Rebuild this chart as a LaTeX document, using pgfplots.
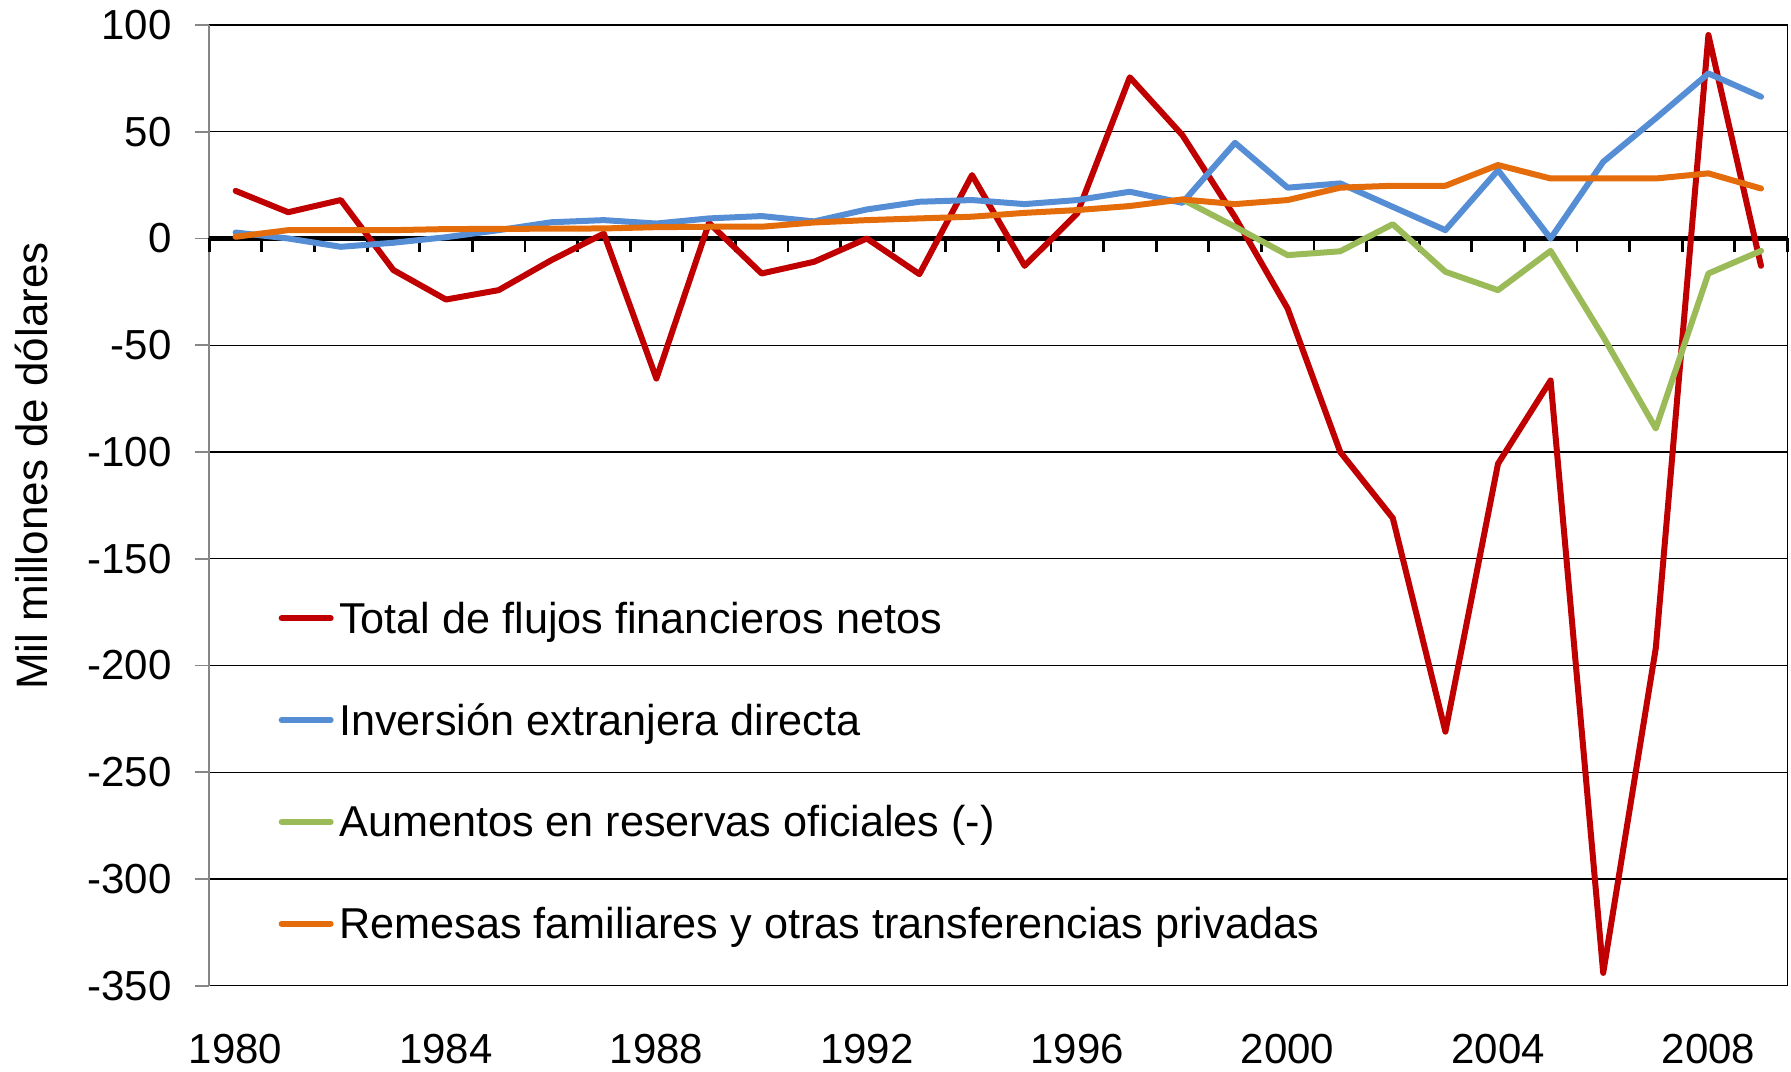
\documentclass[border=0pt]{standalone}
\usepackage{pgfplots}
\usepackage{pgfplotstable}
\pgfplotsset{compat=1.18}
\usepackage{fontspec}
\setmainfont{Liberation Sans}
\definecolor{cred}{HTML}{C00000}
\definecolor{cblue}{HTML}{558ED5}
\definecolor{cgreen}{HTML}{9BBB59}
\definecolor{corange}{HTML}{E46C0A}
\definecolor{caxis}{HTML}{868686}

\pgfplotstableread{
year total ied remesas
1980 22.3 2.8 0.8
1981 12.3 0.0 3.9
1982 18.0 -3.9 3.9
1983 -14.8 -2.0 3.9
1984 -28.6 0.6 4.4
1985 -24.2 3.9 4.5
1986 -10.2 7.6 4.6
1987 2.3 8.6 4.7
1988 -65.6 7.0 5.3
1989 7.3 9.4 5.5
1990 -16.4 10.5 5.5
1991 -10.9 8.0 7.5
1992 0.0 13.6 8.6
1993 -16.7 17.2 9.4
1994 29.7 18.0 10.2
1995 -12.8 16.1 12.0
1996 11.7 18.0 13.3
1997 75.5 21.9 15.2
1998 48.4 16.7 18.3
1999 10.0 44.8 16.1
2000 -32.8 23.8 18.0
2001 -100.0 25.8 23.8
2002 -131.0 14.8 24.7
2003 -231.0 3.9 24.7
2004 -105.5 32.0 34.4
2005 -66.5 0.0 28.1
2006 -344.0 35.9 28.1
2007 -191.8 56.3 28.1
2008 95.3 77.3 30.5
2009 -12.8 66.4 23.4
}\datatab

\pgfplotstableread{
year reservas
1998 18.3
1999 5.5
2000 -7.8
2001 -6.0
2002 6.7
2003 -15.6
2004 -24.2
2005 -5.8
2006 -46.0
2007 -89.0
2008 -16.4
2009 -5.8
}\restab

\begin{document}
\begin{tikzpicture}
\begin{axis}[
  width=789pt, height=480.35pt, scale only axis,
  xmin=1979.5, xmax=2009.5, ymin=-350, ymax=100,
  clip=false,
  axis line style={draw=none},
  xtick={1980,1984,...,2008},
  xticklabels={1980,1984,1988,1992,1996,2000,2004,2008},
  xtick style={draw=none},
  ytick={-350,-300,...,100},
  yticklabels={-350,-300,-250,-200,-150,-100,-50,0,50,100},
  ytick pos=left,
  tick align=outside,
  major tick length=7pt,
  ytick style={caxis, line width=0.8pt},
  ymajorgrids,
  major grid style={black, line width=0.7pt},
  yticklabel style={font=\fontsize{21}{25}\selectfont, inner sep=0pt, anchor=east, xshift=-11.65pt},
  xticklabel style={font=\fontsize{21}{25}\selectfont, inner sep=0pt, anchor=base, yshift=-32pt},
  ylabel={Mil millones de dólares},
  ylabel style={at={(axis description cs:-0.1124,0.541)}, anchor=center, font=\fontsize{22}{26}\selectfont},
  legend style={at={(0.0437,0.4006)}, anchor=north west, draw=none, fill=none, inner sep=0pt,
    row sep=29.9pt, column sep=2.8pt, font=\fontsize{21.6}{26}\selectfont,
    cells={anchor=base west}, nodes={inner sep=0pt, text height=16pt, text depth=5pt}},
  legend image code/.code={\draw[#1, line cap=round] (0pt,7.5pt) -- (24.5pt,7.5pt);},
]
\draw[black, line width=0.7pt] (rel axis cs:0,1) -- (rel axis cs:1,1) -- (rel axis cs:1,0) -- (rel axis cs:0,0);
\draw[caxis, line width=0.8pt] (rel axis cs:0,0) -- (rel axis cs:0,1);
\draw[black, line width=2.2pt] (axis cs:1979.5,0) -- (axis cs:2009.5,0);
\pgfplotsinvokeforeach{1979.5,1980.5,...,2009.5}{\draw[black, line width=1.4pt] (axis cs:#1,0) -- ++(0pt,-6.8pt);}
\coordinate (sw) at (rel axis cs:0,0);
\coordinate (ne) at (rel axis cs:1,1);

\addplot[cred, line width=3pt, line join=round, line cap=round] table[x=year, y=total] {\datatab};
\addlegendentry{Total de flujos financieros netos}
\addplot[cblue, line width=3pt, line join=round, line cap=round] table[x=year, y=ied] {\datatab};
\addlegendentry{Inversión extranjera directa}
\addplot[cgreen, line width=3pt, line join=round, line cap=round] table[x=year, y=reservas] {\restab};
\addlegendentry{Aumentos en reservas oficiales (-)}
\addplot[corange, line width=3pt, line join=round, line cap=round] table[x=year, y=remesas] {\datatab};
\addlegendentry{Remesas familiares y otras transferencias privadas}
\end{axis}
\pgfresetboundingbox
\path[use as bounding box] ([xshift=-104.65pt,yshift=-42.65pt]sw) rectangle ([xshift=1.85pt,yshift=12.5pt]ne);
\end{tikzpicture}
\end{document}
